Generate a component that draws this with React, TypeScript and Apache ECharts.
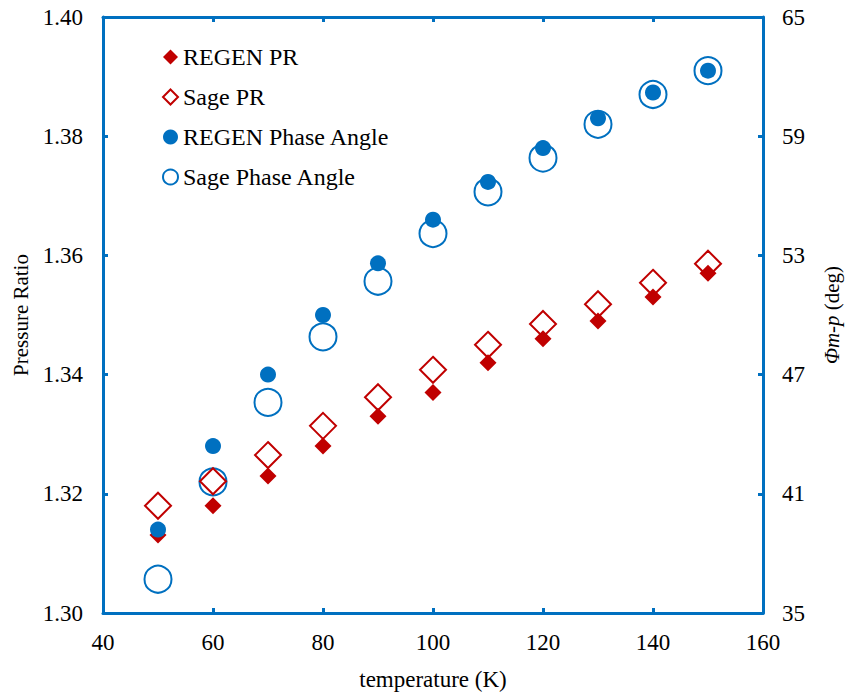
import React, { useEffect, useRef } from "react";
import * as echarts from "echarts";

const temperatures = [50, 60, 70, 80, 90, 100, 110, 120, 130, 140, 150];
const regenPR = [1.3131, 1.318, 1.323, 1.328, 1.333, 1.337, 1.342, 1.346, 1.349, 1.353, 1.357];
const sagePR = [1.318, 1.3221, 1.3265, 1.3314, 1.3362, 1.3408, 1.345, 1.3485, 1.3518, 1.3554, 1.3586];
const regenPhase = [39.2, 43.4, 47.0, 50.0, 52.6, 54.8, 56.7, 58.4, 59.9, 61.2, 62.3];
const sagePhase = [36.7, 41.6, 45.6, 48.9, 51.7, 54.1, 56.2, 57.9, 59.6, 61.1, 62.3];

const RED = "#C00000";
const BLUE = "#0070C0";
const FONT = "'Liberation Serif', 'Times New Roman', serif";

const pairs = (ys: number[]) => temperatures.map((t, i) => [t, ys[i]]);

export default function App() {
  const ref = useRef<HTMLDivElement>(null);
  useEffect(() => {
    if (!ref.current) return;
    const chart = echarts.init(ref.current, undefined, { renderer: "svg" });
    const axisLine = { show: true, lineStyle: { color: BLUE, width: 3 } };
    const axisTick = { show: true, inside: true, length: 5, lineStyle: { color: BLUE, width: 3 } };
    const label = { color: "#000", fontFamily: FONT, fontSize: 23 };
    chart.setOption({
      animation: false,
      backgroundColor: "#fff",
      textStyle: { fontFamily: FONT },
      grid: { left: 103, right: 82, top: 17, bottom: 83, containLabel: false, outerBoundsMode: "none" },
      legend: {
        orient: "vertical",
        left: 162,
        top: 45,
        padding: 0,
        itemWidth: 15,
        itemHeight: 15,
        itemGap: 16,
        textStyle: { color: "#000", fontFamily: FONT, fontSize: 24 },
        data: ["REGEN PR", "Sage PR", "REGEN Phase Angle", "Sage Phase Angle"],
      },
      xAxis: [
        {
          type: "value",
          min: 40,
          max: 160,
          interval: 20,
          name: "temperature (K)",
          nameLocation: "middle",
          nameGap: 55,
          nameTextStyle: { color: "#000", fontFamily: FONT, fontSize: 23 },
          axisLine,
          axisTick,
          axisLabel: { ...label, margin: 18 },
          splitLine: { show: false },
        },
        {
          type: "value",
          position: "top",
          min: 40,
          max: 160,
          interval: 20,
          axisLine,
          axisTick,
          axisLabel: { show: false },
          splitLine: { show: false },
        },
      ],
      yAxis: [
        {
          type: "value",
          min: 1.3,
          max: 1.4,
          interval: 0.02,
          name: "Pressure Ratio",
          nameLocation: "middle",
          nameGap: 71,
          nameRotate: 90,
          nameTextStyle: { color: "#000", fontFamily: FONT, fontSize: 21 },
          axisLine,
          axisTick,
          axisLabel: { ...label, margin: 20, formatter: (v: number) => v.toFixed(2) },
          splitLine: { show: false },
        },
        {
          type: "value",
          position: "right",
          min: 35,
          max: 65,
          interval: 6,
          name: "{i|Φm-p} (deg)",
          nameLocation: "middle",
          nameGap: 58,
          nameRotate: 90,
          nameTextStyle: {
            color: "#000",
            fontFamily: FONT,
            fontSize: 21,
            rich: { i: { fontStyle: "italic", fontFamily: FONT, fontSize: 21, color: "#000" } },
          },
          axisLine,
          axisTick,
          axisLabel: { ...label, margin: 19 },
          splitLine: { show: false },
        },
      ],
      series: [
        {
          name: "Sage Phase Angle",
          type: "scatter",
          yAxisIndex: 1,
          data: pairs(sagePhase),
          symbol: "circle",
          symbolSize: 27,
          itemStyle: { color: "#fff", borderColor: BLUE, borderWidth: 2, opacity: 1 },
          z: 1,
        },
        {
          name: "Sage PR",
          type: "scatter",
          yAxisIndex: 0,
          data: pairs(sagePR),
          symbol: "diamond",
          symbolSize: [26, 26],
          itemStyle: { color: "#fff", borderColor: RED, borderWidth: 2, opacity: 1 },
          z: 2,
        },
        {
          name: "REGEN PR",
          type: "scatter",
          yAxisIndex: 0,
          data: pairs(regenPR),
          symbol: "diamond",
          symbolSize: [17, 17],
          itemStyle: { color: RED, opacity: 1 },
          z: 3,
        },
        {
          name: "REGEN Phase Angle",
          type: "scatter",
          yAxisIndex: 1,
          data: pairs(regenPhase),
          symbol: "circle",
          symbolSize: 16,
          itemStyle: { color: BLUE, opacity: 1 },
          z: 4,
        },
      ],
    });
    return () => chart.dispose();
  }, []);
  return <div ref={ref} style={{ width: 845, height: 696, position: "absolute", left: 0, top: 0 }} />;
}
